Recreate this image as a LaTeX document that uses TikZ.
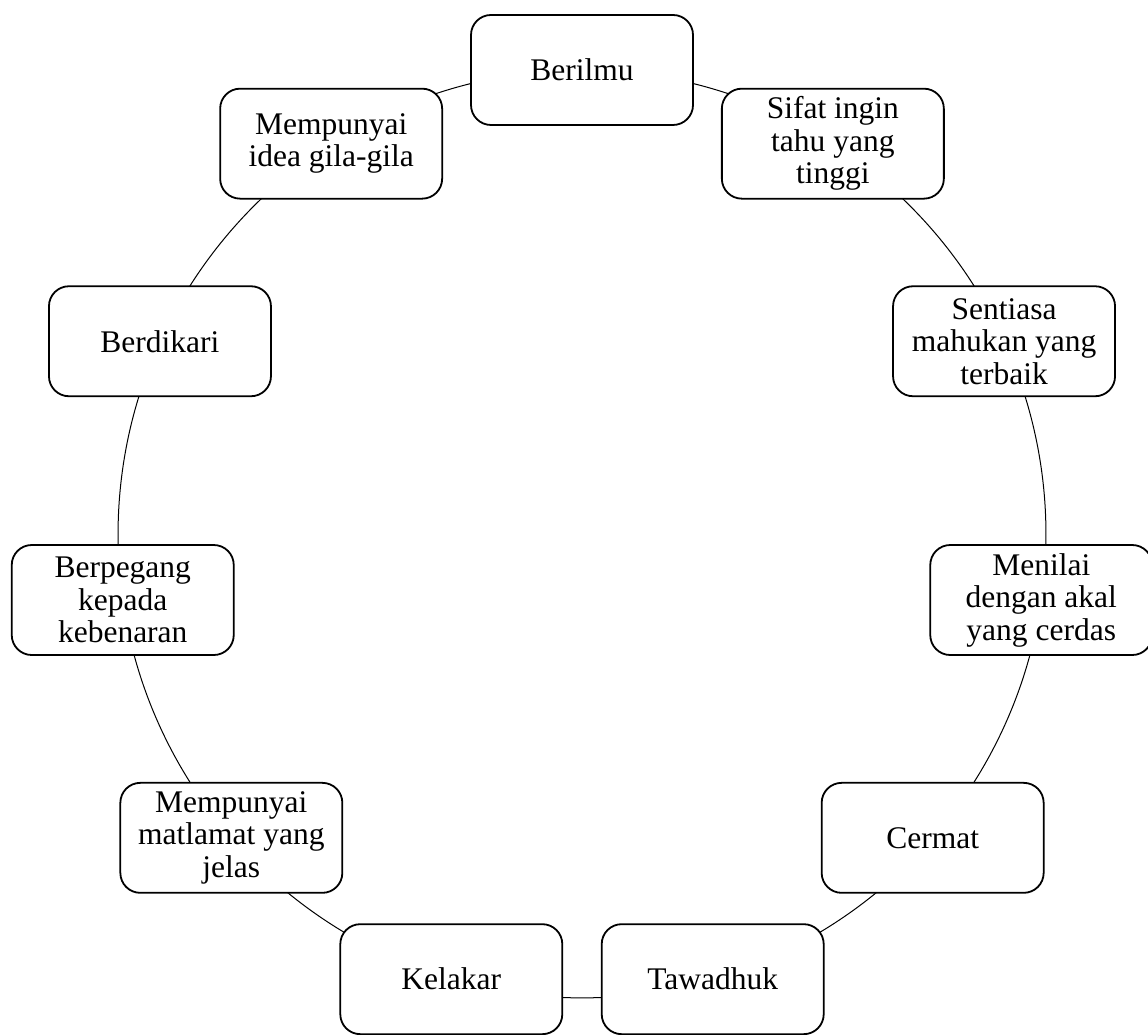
\documentclass[tikz,border=0pt]{standalone}
\usepackage{fontspec}
\setmainfont{Liberation Serif}
\usetikzlibrary{backgrounds}
\tikzset{
  box/.style={draw, line width=1.8pt, rounded corners=20pt, fill=white,
    minimum width=222pt, minimum height=110pt, inner sep=0pt, align=center,
    font=\fontsize{31.5}{32.5}\selectfont},
  conn/.style={draw, line width=1pt, bend left=16.3636, looseness=0.869}
}
\begin{document}
\begin{tikzpicture}[x=1pt,y=1pt]
\useasboundingbox (0,0) rectangle (1148,1035);
\coordinate (C) at (582,501);
\node[box] (n1) at ([shift={(90:464)}]C) {Berilmu};
\node[box] (n2) at ([shift={(57.2727:464)}]C) {Sifat ingin\\tahu yang\\tinggi};
\node[box] (n3) at ([shift={(24.5455:464)}]C) {Sentiasa\\mahukan yang\\terbaik};
\node[box] (n4) at ([shift={(-8.1818:464)}]C) {Menilai\\dengan akal\\yang cerdas};
\node[box] (n5) at ([shift={(-40.9091:464)}]C) {Cermat};
\node[box] (n6) at ([shift={(-73.6364:464)}]C) {Tawadhuk};
\node[box] (n7) at ([shift={(-106.3636:464)}]C) {Kelakar};
\node[box] (n8) at ([shift={(-139.0909:464)}]C) {Mempunyai\\matlamat yang\\jelas};
\node[box] (n9) at ([shift={(-171.8182:464)}]C) {Berpegang\\kepada\\kebenaran};
\node[box] (n10) at ([shift={(155.4545:464)}]C) {Berdikari};
\node[box] (n11) at ([shift={(122.7273:464)}]C) {Mempunyai\\idea gila-gila};
\begin{scope}[on background layer]
\draw[conn] (n1.center) to (n2.center);
\draw[conn] (n2.center) to (n3.center);
\draw[conn] (n3.center) to (n4.center);
\draw[conn] (n4.center) to (n5.center);
\draw[conn] (n5.center) to (n6.center);
\draw[conn] (n6.center) to (n7.center);
\draw[conn] (n7.center) to (n8.center);
\draw[conn] (n8.center) to (n9.center);
\draw[conn] (n9.center) to (n10.center);
\draw[conn] (n10.center) to (n11.center);
\draw[conn] (n11.center) to (n1.center);
\end{scope}
\end{tikzpicture}
\end{document}
